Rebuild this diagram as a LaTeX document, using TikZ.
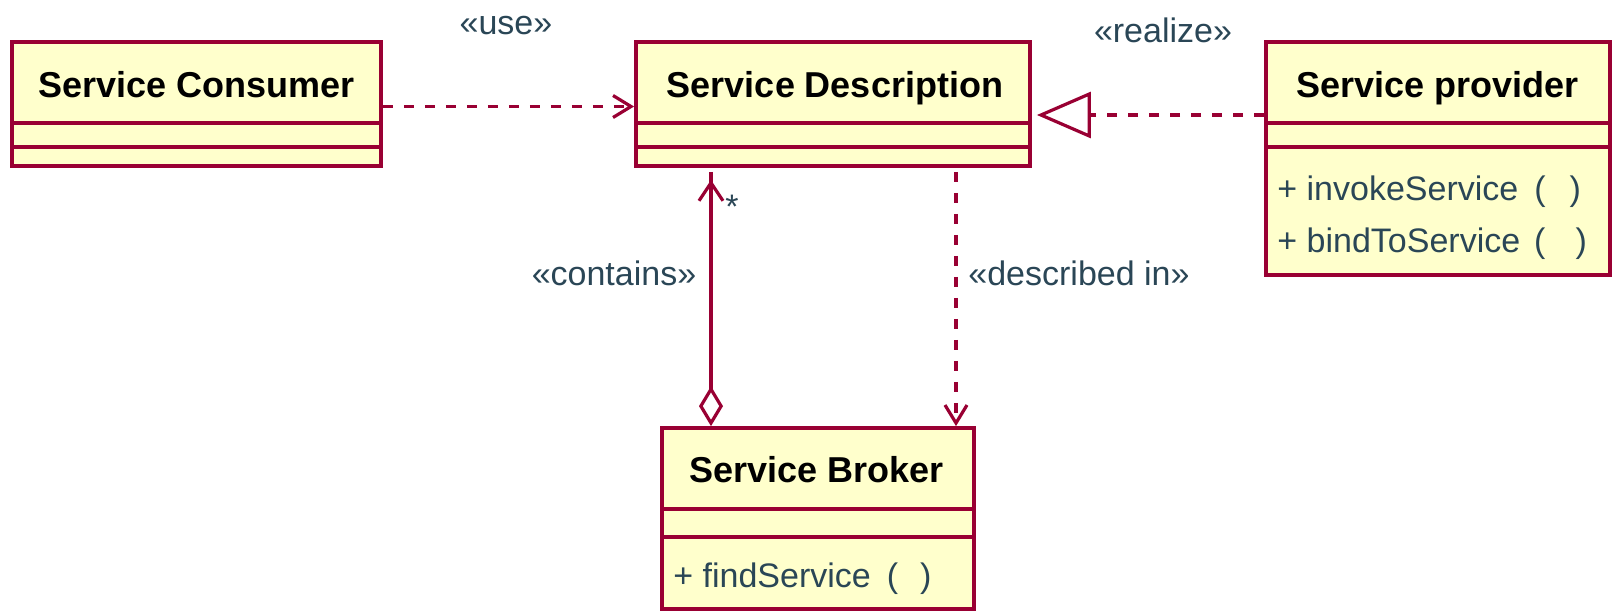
\documentclass[tikz,border=0pt]{standalone}
\usepackage{fontspec}
\setmainfont{Liberation Sans}
\usetikzlibrary{arrows.meta,decorations.markings,calc}
\definecolor{umlred}{HTML}{990033}
\definecolor{umlfill}{HTML}{FFFFCC}
\definecolor{umltext}{HTML}{2A4656}
\begin{document}
\begin{tikzpicture}[x=0.5pt,y=-0.5pt,
  classbox/.style={draw=umlred, fill=umlfill, line width=1.9pt, inner sep=0pt, rectangle},
  divider/.style={draw=umlred, line width=1.9pt},
  title/.style={font=\bfseries\fontsize{18pt}{20pt}\selectfont, text=black, inner sep=0pt, anchor=base},
  member/.style={font=\fontsize{17pt}{19pt}\selectfont, text=umltext, inner sep=0pt, anchor=base west},
  stereo/.style={font=\fontsize{17pt}{19pt}\selectfont, text=umltext, inner sep=0pt, anchor=base},
  conn/.style={draw=umlred, line width=1.9pt},
  depline/.style={conn, dash pattern=on 5pt off 5.5pt},
  vtip/.style={-{Straight Barb[length=9pt,width=11pt,line width=1.6pt]}}
]
\useasboundingbox (0,0) rectangle (1614,611);

% helper coordinates
\coordinate (ya) at (0,123);
\coordinate (yb) at (0,147);
\coordinate (yc) at (0,509);
\coordinate (yd) at (0,537);
\coordinate (yuse) at (0,106.5);
\coordinate (yreal) at (0,115);
\coordinate (xcont) at (711,0);
\coordinate (xdesc) at (956,0);

% classes
\node[classbox, minimum width=184.5pt, minimum height=62pt] (cons) at (196.5,104) {};
\node[classbox, minimum width=197pt, minimum height=62pt] (desc) at (833,104) {};
\node[classbox, minimum width=172pt, minimum height=116.5pt] (prov) at (1438,158.5) {};
\node[classbox, minimum width=156pt, minimum height=90.5pt] (brok) at (818,518.5) {};

% compartments
\draw[divider] (cons.west |- ya) -- (cons.east |- ya);
\draw[divider] (cons.west |- yb) -- (cons.east |- yb);
\draw[divider] (desc.west |- ya) -- (desc.east |- ya);
\draw[divider] (desc.west |- yb) -- (desc.east |- yb);
\draw[divider] (prov.west |- ya) -- (prov.east |- ya);
\draw[divider] (prov.west |- yb) -- (prov.east |- yb);
\draw[divider] (brok.west |- yc) -- (brok.east |- yc);
\draw[divider] (brok.west |- yd) -- (brok.east |- yd);

% titles
\node[title] (tcons) at (196.5,97) {Service Consumer};
\node[title] (tdesc) at (835,97) {Service Description};
\node[title] (tprov) at (1437.5,97) {Service provider};
\node[title] (tbrok) at (816.5,482) {Service Broker};

% operations
\node[member] (m1) at (1277,200) {+ invokeService\hspace{8pt}(\hspace{12pt})};
\node[member] (m2) at (1277,252) {+ bindToService\hspace{7pt}(\hspace{15pt})};
\node[member] (m3) at (673,587) {+ findService\hspace{8pt}(\hspace{11pt})};

% connectors
\draw[depline, vtip] (cons.east |- yuse) -- (desc.west |- yuse);
\draw[depline, -{Triangle[open, fill=white, length=27pt, width=23pt, line width=1.6pt]}, shorten >=2.5pt]
  (prov.west |- yreal) -- (desc.east |- yreal);
\draw[depline, vtip, shorten <=2pt] (desc.south -| xdesc) -- (brok.north -| xdesc);
\draw[conn, shorten <=2pt, -{Diamond[open, fill=white, length=20pt, width=12pt, line width=1.6pt]},
  postaction={decorate},
  decoration={markings, mark=at position 6pt with {\arrowreversed{Straight Barb[length=9pt,width=12pt,line width=1.6pt]}}}]
  (desc.south -| xcont) -- (brok.north -| xcont);

% labels
\node[stereo] (luse) at (506,34) {«use»};
\node[stereo] (lreal) at (1163,42) {«realize»};
\node[stereo] (lcont) at (614,285) {«contains»};
\node[stereo] (ldesc) at (1079,285) {«described in»};
\node[stereo, anchor=center] (lmult) at (732,207) {*};
\end{tikzpicture}
\end{document}
